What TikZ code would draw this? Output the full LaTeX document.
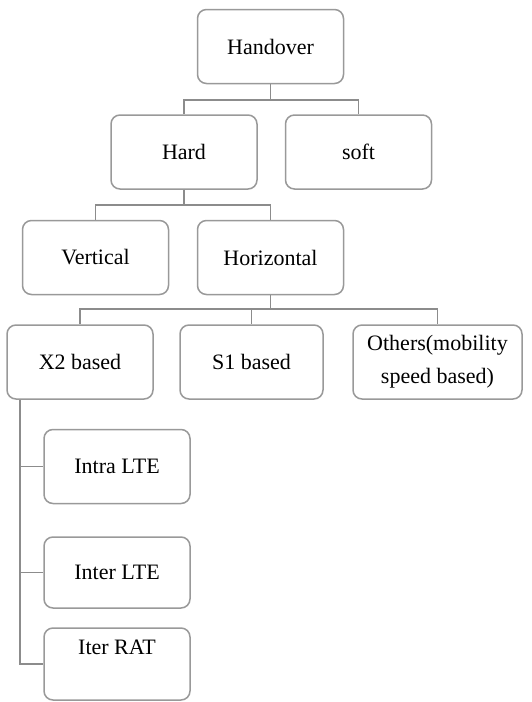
\documentclass[tikz,border=0pt]{standalone}
\usepackage{fontspec}
\setmainfont{Liberation Serif}
\usetikzlibrary{calc}

\begin{document}
\begin{tikzpicture}[
    x=1pt, y=-1pt,
    box/.style={draw=black!40, line width=1.5pt, rounded corners=9pt, fill=white,
        minimum width=146pt, minimum height=74pt, align=center,
        font=\fontsize{22}{33}\selectfont},
    link/.style={draw=black!45, line width=1.8pt}
]

    % Page frame
    \useasboundingbox (0,0) rectangle (531,702);

    % Levels of the tree
    \node[box] (hand) at (270.5,46.5) {Handover};
    \node[box] (hard) at (184,152) {Hard};
    \node[box] (soft) at (358.5,152) {soft};
    \node[box] (vert) at (95.5,257.5) {Vertical};
    \node[box] (horz) at (270.5,257.5) {Horizontal};
    \node[box] (xtwo) at (80,362) {X2 based};
    \node[box, minimum width=143pt] (sone) at (251.5,362) {S1 based};
    \node[box, minimum width=169pt] (othr) at (437.5,362) {Others(mobility\\speed based)};

    % Children of X2 based
    \node[box] (intra) at (117,466.5) {Intra LTE};
    \node[box, minimum height=71pt] (inter) at (117,572.5) {Inter LTE};
    \node[box, minimum height=72pt] (rat) at (117,664) {Iter RAT\\~};

    % Connectors
    \draw[link] (hand.south) -- ++(0,16) coordinate (b1);
    \draw[link] (hard.north) |- (b1) -| (soft.north);

    \draw[link] (hard.south) -- ++(0,15.5) coordinate (b2);
    \draw[link] (vert.north) |- (b2) -| (horz.north);

    \draw[link] (horz.south) -- ++(0,13.5) coordinate (b3);
    \draw[link] (xtwo.north) |- (b3) -| (othr.north);
    \draw[link] (b3) -| (sone.north);

    % Trunk down the left side
    \coordinate (trunk) at ([xshift=14pt]xtwo.south west);
    \draw[link] (trunk) |- (rat.west);
    \draw[link] (trunk |- intra.west) -- (intra.west);
    \draw[link] (trunk |- inter.west) -- (inter.west);

\end{tikzpicture}
\end{document}
